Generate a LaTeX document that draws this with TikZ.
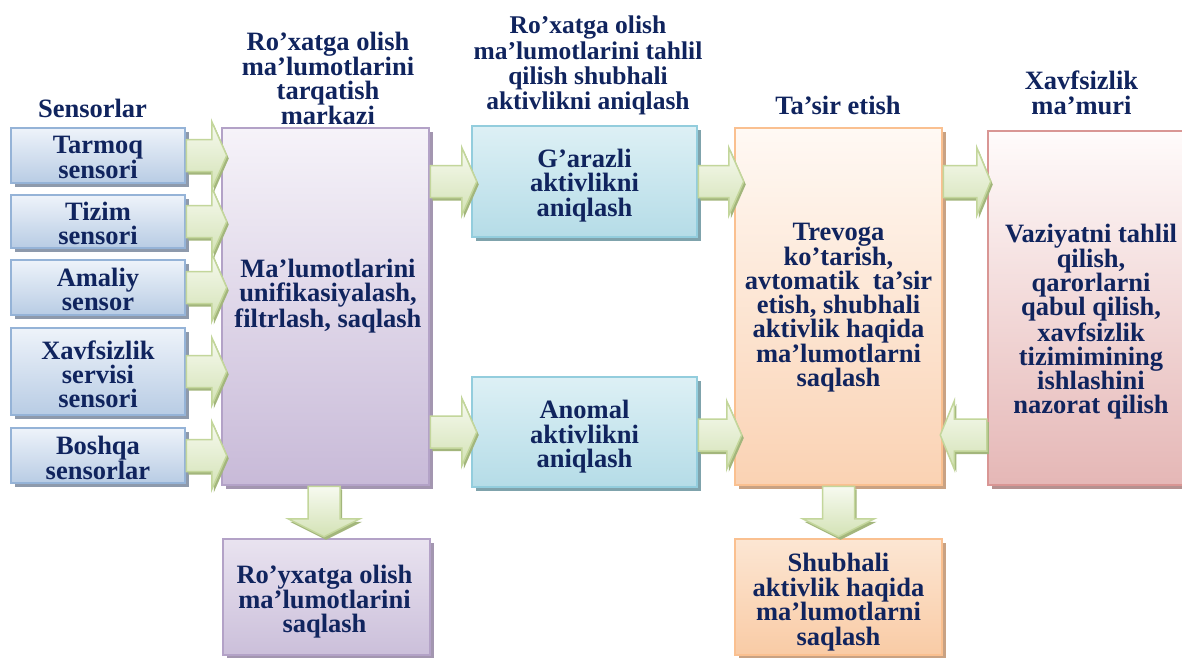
\documentclass[tikz,border=0pt]{standalone}
\usepackage{fontspec}
\setmainfont{Liberation Serif}
\usetikzlibrary{calc,shadows}

\definecolor{txtc}{RGB}{16,36,94}
\definecolor{senst}{HTML}{EEF3FA}
\definecolor{sensbot}{HTML}{B8CCE4}
\definecolor{sensb}{HTML}{95B3D7}
\definecolor{sensh}{HTML}{8E9AAC}
\definecolor{purt}{HTML}{F6F3F9}
\definecolor{purbot}{HTML}{C8BAD8}
\definecolor{purb}{HTML}{B3A2C7}
\definecolor{pursh}{HTML}{A396B0}
\definecolor{rst}{HTML}{E9E3F0}
\definecolor{rsbot}{HTML}{CBBFDA}
\definecolor{cyt}{HTML}{DDF0F5}
\definecolor{cybot}{HTML}{B5DCE7}
\definecolor{cyb}{HTML}{93CDDD}
\definecolor{cysh}{HTML}{7FA3AC}
\definecolor{ort}{HTML}{FFF9F4}
\definecolor{orbot}{HTML}{FAD2B3}
\definecolor{orb}{HTML}{FAC090}
\definecolor{orsh}{HTML}{C9A283}
\definecolor{sht}{HTML}{FCE6D3}
\definecolor{shbot}{HTML}{F9CBA5}
\definecolor{redt}{HTML}{FFFBFB}
\definecolor{redbot}{HTML}{E5B7B6}
\definecolor{redb}{HTML}{D99694}
\definecolor{redsh}{HTML}{B59190}
\definecolor{arrt}{HTML}{F7FAF0}
\definecolor{arrbot}{HTML}{D3E2B5}
\definecolor{arrd}{HTML}{C3D69B}
\definecolor{arrsh}{HTML}{A3B67C}

\tikzset{
  bx/.style={draw, line width=2.5pt, inner sep=0pt},
  sens/.style={bx, draw=sensb, top color=senst, bottom color=sensbot, minimum width=174pt,
    drop shadow={shadow xshift=4pt, shadow yshift=-4pt, fill=sensh, opacity=1}},
  purbox/.style={bx, draw=purb, top color=purt, bottom color=purbot,
    drop shadow={shadow xshift=4pt, shadow yshift=-4pt, fill=pursh, opacity=1}},
  cybox/.style={bx, draw=cyb, top color=cyt, bottom color=cybot,
    drop shadow={shadow xshift=4pt, shadow yshift=-4pt, fill=cysh, opacity=1}},
  orbox/.style={bx, draw=orb, top color=ort, bottom color=orbot,
    drop shadow={shadow xshift=4pt, shadow yshift=-4pt, fill=orsh, opacity=1}},
  redbox/.style={bx, draw=redb, top color=redt, bottom color=redbot,
    drop shadow={shadow xshift=4pt, shadow yshift=-4pt, fill=redsh, opacity=1}},
  txt/.style={inner sep=0pt, align=center, text=txtc, font=\bfseries\fontsize{26.5}{24}\selectfont},
  garrow/.style={draw=arrd, line width=1.5pt, line join=miter, top color=arrt, bottom color=arrbot,
    drop shadow={shadow xshift=2pt, shadow yshift=-3pt, fill=arrsh, opacity=1}},
}
\newcommand\fs[1]{\bfseries\fontsize{26.5}{#1}\selectfont}

% horizontal block arrow: #1 tail, #2 tip, #3 x-offset of head base from tip
\newcommand\harrow[3]{%
  \path[garrow] ($(#1)+(0,-16)$) -- ($(#2)+(#3,-16)$) -- ($(#2)+(#3,-34)$) -- (#2)
    -- ($(#2)+(#3,34)$) -- ($(#2)+(#3,16)$) -- ($(#1)+(0,16)$) -- cycle;}
% downward block arrow: #1 tail, #2 tip
\newcommand\varrow[2]{%
  \path[garrow] ($(#1)+(-16,0)$) -- ($(#2)+(-16,-18)$) -- ($(#2)+(-36,-18)$) -- (#2)
    -- ($(#2)+(36,-18)$) -- ($(#2)+(16,-18)$) -- ($(#1)+(16,0)$) -- cycle;}

\begin{document}
\begin{tikzpicture}[x=1pt,y=-1pt]
\useasboundingbox (0,0) rectangle (1182,657);
\clip (0,0) rectangle (1182,657);
\fill[white] (0,0) rectangle (1182,657);

% headings
\node[txt, anchor=base] (hs) at (92.5,117) {Sensorlar};
\node[txt, anchor=north, font=\fs{23.8}] (hdc) at (328,32) {Ro’xatga olish\\ma’lumotlarini\\tarqatish\\markazi};
\node[txt, anchor=north, font=\bfseries\fontsize{25.5}{25.3}\selectfont] (hga) at (588,16) {Ro’xatga olish\\ma’lumotlarini tahlil\\qilish shubhali\\aktivlikni aniqlash};
\node[txt, anchor=base] (hte) at (838,114) {Ta’sir etish};
\node[txt, anchor=north, font=\fs{25}] (hxm) at (1081.5,71) {Xavfsizlik\\ma’muri};

% sensors
\node[sens, minimum height=55pt] (s1) at (98,155.5) {};
\node[txt] (s1t) at ($(s1)+(0,2)$) {Tarmoq\\sensori};
\node[sens, minimum height=53pt] (s2) at (98,221.5) {};
\node[txt] (s2t) at ($(s2)+(0,2)$) {Tizim\\sensori};
\node[sens, minimum height=55pt] (s3) at (98,287.5) {};
\node[txt] (s3t) at ($(s3)+(0,2)$) {Amaliy\\sensor};
\node[sens, minimum height=87pt] (s4) at (98,371.5) {};
\node[txt] (s4t) at ($(s4)+(0,3)$) {Xavfsizlik\\servisi\\sensori};
\node[sens, minimum height=55pt] (s5) at (98,455.5) {};
\node[txt] (s5t) at ($(s5)+(0,2)$) {Boshqa\\sensorlar};

% main boxes
\node[purbox, minimum width=207pt, minimum height=357pt] (dc) at (325.5,306.5) {};
\node[txt] (dct) at (328,296) {Ma’lumotlarini\\unifikasiyalash,\\filtrlash, saqlash};
\node[purbox, top color=rst, bottom color=rsbot, minimum width=207pt, minimum height=116pt] (rs) at (326.5,597) {};
\node[txt, font=\fs{24.5}] (rst) at (324.5,602) {Ro’yxatga olish\\ma’lumotlarini\\saqlash};
\node[cybox, minimum width=225pt, minimum height=111pt] (ga) at (584.5,181.5) {};
\node[txt, font=\fs{24.5}] (gat) at ($(ga)+(0,4)$) {G’arazli\\aktivlikni\\aniqlash};
\node[cybox, minimum width=225pt, minimum height=110pt] (an) at (584.5,432) {};
\node[txt, font=\fs{24.5}] (ant) at ($(an)+(0,5)$) {Anomal\\aktivlikni\\aniqlash};
\node[orbox, minimum width=207pt, minimum height=357pt] (te) at (838.5,306.5) {};
\node[txt, font=\fs{24}] (tet) at ($(te)+(0,1)$) {Trevoga\\ko’tarish,\\avtomatik\ \ ta’sir\\etish, shubhali\\aktivlik haqida\\ma’lumotlarni\\saqlash};
\node[orbox, top color=sht, bottom color=shbot, minimum width=207pt, minimum height=116pt] (sh) at (838.5,597) {};
\node[txt, font=\fs{24.7}] (sht) at ($(sh)+(0,5)$) {Shubhali\\aktivlik haqida\\ma’lumotlarni\\saqlash};
\node[redbox, minimum width=197pt, minimum height=354pt] (xm) at (1086.5,307.8) {};
\node[txt, font=\fs{24.3}] (xmt) at (1091,322) {Vaziyatni tahlil\\qilish,\\qarorlarni\\qabul qilish,\\xavfsizlik\\tizimimining\\ishlashini\\nazorat qilish};

% arrow end points
\foreach \i in {1,...,5} {
  \coordinate (t\i) at ($(s\i.east -| dc.west)+(6,0)$);
}
\coordinate (dcga) at (dc.east |- ga.west);
\coordinate (gatip) at ($(ga.west)+(6,0)$);
\coordinate (dcan) at (dc.east |- an.west);
\coordinate (antip) at ($(an.west)+(6,0)$);
\coordinate (gate) at ($(ga.east -| te.west)+(10,0)$);
\coordinate (anteA) at ($(an.east)+(0,3)$);
\coordinate (ante) at ($(an.east -| te.west)+(8,3)$);
\coordinate (texm) at (te.east |- ga.east);
\coordinate (texmtip) at ($(ga.east -| xm.west)+(4,0)$);
\coordinate (xmte) at ($(xm.west |- an.east)+(0,3)$);
\coordinate (xmtetip) at ($(te.east |- an.east)+(-3,3)$);
\coordinate (dcrs) at ($(dc.south)+(-1.5,0)$);
\coordinate (dcrstip) at ($(dc.south |- rs.north)+(-1.5,-1)$);
\coordinate (tesh) at (te.south);
\coordinate (teshtip) at ($(te.south |- sh.north)+(0,-1)$);

% arrows
\foreach \i in {1,...,5} { \harrow{s\i.east}{t\i}{-15} }
\harrow{dcga}{gatip}{-15}
\harrow{dcan}{antip}{-15}
\harrow{ga.east}{gate}{-15}
\harrow{anteA}{ante}{-15}
\harrow{texm}{texmtip}{-14}
\harrow{xmte}{xmtetip}{14}
\varrow{dcrs}{dcrstip}
\varrow{tesh}{teshtip}
\end{tikzpicture}
\end{document}
